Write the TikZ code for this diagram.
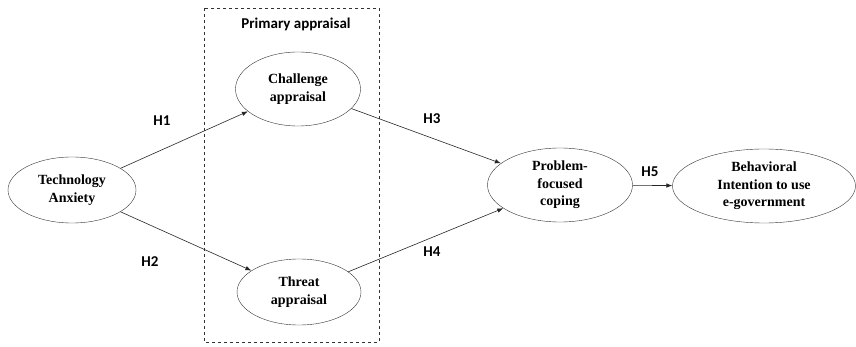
\documentclass[tikz,border=0pt]{standalone}
\usepackage{fontspec}
\setmainfont{Liberation Serif}
\newfontfamily\hfont{Carlito}
\usetikzlibrary{shapes.geometric,arrows.meta}
\begin{document}
\begin{tikzpicture}[x=1pt,y=-1pt,
            n/.style={ellipse,draw=black!80,thin,inner sep=0pt,align=center,
                font=\fontsize{14}{17.5}\selectfont\bfseries},
            h/.style={font=\hfont\fontsize{15}{17}\selectfont\bfseries},
            a/.style={-{Latex[length=6pt,width=4.5pt]},semithick,draw=black!85}]
            \useasboundingbox (0,0) rectangle (856,347);

            \draw[dashed,thin,black!80] (204,8) rectangle (379,342);
            \node[h] (pa) at (296,24) {Primary appraisal};

            \node[n,minimum width=128,minimum height=66] (ta) at (72,190) {Technology\\Anxiety};
            \node[n,minimum width=125,minimum height=74] (ca) at (298,89) {Challenge\\appraisal};
            \node[n,minimum width=124,minimum height=66] (thr) at (299,292) {Threat\\appraisal};
            \node[n,minimum width=145,minimum height=74] (pfc) at (560,185) {Problem-\\focused\\coping};
            \node[n,minimum width=183,minimum height=74] (bi) at (764,186) {Behavioral\\Intention to use\\e-government};

            \draw[a] (ta) to (ca);
            \draw[a] (ta) to (thr);
            \draw[a] (ca) to (pfc);
            \draw[a] (thr) to (pfc);
            \draw[a] (pfc) to (bi);

            \node[h] (h1) at (162,121) {H1};
            \node[h] (h2) at (150,262) {H2};
            \node[h] (h3) at (432,119) {H3};
            \node[h] (h4) at (432,252) {H4};
            \node[h] (h5) at (650,172) {H5};
        \end{tikzpicture}
\end{document}
